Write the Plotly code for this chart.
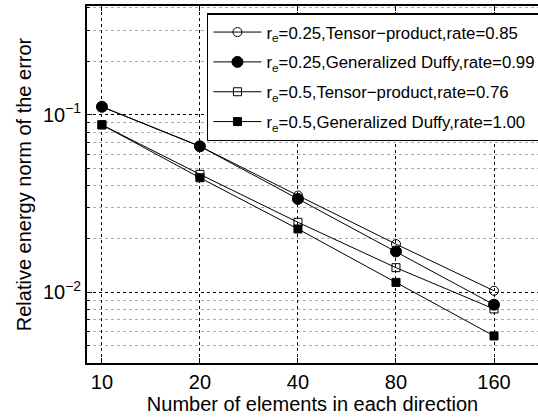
import plotly.graph_objects as go
import math

N = [10, 20, 40, 80, 160]
tp025 = [0.111, 0.0665, 0.0351, 0.0187, 0.0102]
gd025 = [0.111, 0.0665, 0.0336, 0.0170, 0.00852]
tp05 = [0.0878, 0.0462, 0.0248, 0.01377, 0.00806]
gd05 = [0.0878, 0.0442, 0.02275, 0.01138, 0.00568]

names = [
    "r<sub>e</sub>=0.25,Tensor\u2212product,rate=0.85",
    "r<sub>e</sub>=0.25,Generalized Duffy,rate=0.99\u00a0\u00a0\u00a0",
    "r<sub>e</sub>=0.5,Tensor\u2212product,rate=0.76",
    "r<sub>e</sub>=0.5,Generalized Duffy,rate=1.00",
]
series = [tp025, gd025, tp05, gd05]
symbols = ["circle-open", "circle", "square-open", "square"]
sizes = [9, 11, 8, 8]

xticks = [10, 20, 40, 80, 160]
yticks = [0.01, 0.1]
yticktext = ["10<sup>\u22122</sup>", "10<sup>\u22121</sup>"]

FONT = "Liberation Sans, Arial, Helvetica, sans-serif"

fig = go.Figure()
for i, (nm, ys, sym, sz) in enumerate(zip(names, series, symbols, sizes)):
    fig.add_trace(go.Scatter(
        x=N, y=ys, name=nm, mode="lines+markers",
        line=dict(color="black", width=1),
        marker=dict(symbol=sym, size=sz, color="black",
                    line=dict(color="black", width=1)),
        legendgroup=f"g{i}",
    ))

fig.update_layout(
    width=538, height=419,
    margin=dict(l=87, r=0, t=6, b=56, autoexpand=False),
    paper_bgcolor="white", plot_bgcolor="white",
    font=dict(family=FONT, color="black", size=20),
    showlegend=True,
    legend=dict(
        x=0.266, y=0.980, xanchor="left", yanchor="top",
        bgcolor="white", bordercolor="black", borderwidth=1.5,
        font=dict(size=16.8, family=FONT, color="black"),
        itemwidth=48, tracegroupgap=5,
    ),
    xaxis=dict(
        type="log", automargin=False,
        range=[math.log10(9.0), math.log10(218.4)],
        tickvals=xticks, ticktext=[str(v) for v in xticks],
        ticks="inside", ticklen=5, tickcolor="black",
        showline=True, linecolor="black", linewidth=1.8, mirror="ticks",
        showgrid=True, gridcolor="black", griddash="dot", gridwidth=1,
        zeroline=False,
        tickfont=dict(size=20),
        title=dict(text="Number of elements in each direction",
                   font=dict(size=20), standoff=2),
    ),
    yaxis=dict(
        type="log", automargin=False,
        range=[math.log10(0.004), math.log10(0.41)],
        tickvals=yticks, ticktext=yticktext,
        ticks="inside", ticklen=5, tickcolor="black",
        showline=True, linecolor="black", linewidth=1.8, mirror=False,
        showgrid=True, gridcolor="black", griddash="dot", gridwidth=1,
        zeroline=False,
        tickfont=dict(size=20),
        minor=dict(dtick="D1", ticks="inside", ticklen=3, tickcolor="black",
                   showgrid=True, gridcolor="#aaaaaa", griddash="dot", gridwidth=1),
        title=dict(text="Relative energy norm of the error",
                   font=dict(size=20), standoff=6),
    ),
)

fig.write_html("out.html",
               config={"displayModeBar": False},
               post_script="document.body.style.margin='0';document.body.style.overflow='hidden';")
